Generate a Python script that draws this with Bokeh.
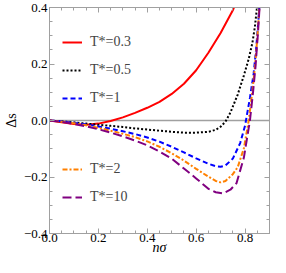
from bokeh.plotting import figure
from bokeh.models import (Range1d, FixedTicker, LinearAxis, Span, Legend, LegendItem)
from bokeh.embed import file_html
from bokeh.resources import INLINE

# ---- data ----
x_03 = [0.0, 0.05, 0.1, 0.15, 0.2, 0.25, 0.3, 0.35, 0.4, 0.45, 0.5, 0.55, 0.6, 0.65, 0.7, 0.75, 0.8]
y_03 = [0.0, -0.006, -0.012, -0.015, -0.011, -0.002, 0.011, 0.027, 0.045, 0.066, 0.094, 0.13, 0.178, 0.24, 0.31, 0.39, 0.5]

x_05 = [0.0, 0.05, 0.1, 0.15, 0.2, 0.25, 0.3, 0.35, 0.4, 0.45, 0.5, 0.55, 0.6, 0.65, 0.68, 0.7, 0.72, 0.74, 0.77, 0.795, 0.815, 0.83, 0.84, 0.85, 0.86]
y_05 = [0.0, -0.003, -0.007, -0.011, -0.015, -0.019, -0.023, -0.028, -0.032, -0.036, -0.040, -0.043, -0.043, -0.040, -0.033, -0.022, -0.004, 0.028, 0.092, 0.159, 0.218, 0.275, 0.33, 0.41, 0.52]

x_1 = [0.0, 0.05, 0.1, 0.15, 0.2, 0.25, 0.3, 0.35, 0.4, 0.45, 0.5, 0.55, 0.6, 0.65, 0.68, 0.7, 0.72, 0.75, 0.78, 0.8, 0.82, 0.835, 0.845, 0.855, 0.862]
y_1 = [0.0, -0.003, -0.008, -0.014, -0.021, -0.029, -0.038, -0.048, -0.060, -0.075, -0.093, -0.113, -0.134, -0.153, -0.162, -0.164, -0.159, -0.135, -0.08, -0.018, 0.08, 0.165, 0.25, 0.36, 0.45]

x_2 = [0.0, 0.05, 0.1, 0.15, 0.2, 0.25, 0.3, 0.35, 0.4, 0.45, 0.5, 0.55, 0.6, 0.65, 0.68, 0.7, 0.72, 0.75, 0.77, 0.795, 0.815, 0.83, 0.84, 0.85, 0.86]
y_2 = [0.0, -0.004, -0.010, -0.017, -0.026, -0.036, -0.047, -0.059, -0.074, -0.093, -0.116, -0.142, -0.171, -0.199, -0.214, -0.219, -0.214, -0.19, -0.165, -0.099, 0.0, 0.105, 0.185, 0.29, 0.42]

x_10 = [0.0, 0.05, 0.1, 0.15, 0.2, 0.25, 0.3, 0.35, 0.4, 0.45, 0.5, 0.55, 0.6, 0.65, 0.68, 0.71, 0.74, 0.765, 0.795, 0.82, 0.833, 0.843, 0.852, 0.86]
y_10 = [0.0, -0.005, -0.012, -0.021, -0.031, -0.043, -0.056, -0.071, -0.088, -0.110, -0.135, -0.170, -0.205, -0.242, -0.254, -0.258, -0.245, -0.222, -0.132, 0.0, 0.103, 0.193, 0.3, 0.41]

labels = ["T*=0.3", "T*=0.5", "T*=1", "T*=2", "T*=10"]

x_ticks = [0.0, 0.2, 0.4, 0.6, 0.8]
x_tick_labels = ["0.0", "0.2", "0.4", "0.6", "0.8"]
y_ticks = [-0.4, -0.2, 0.0, 0.2, 0.4]
y_tick_labels = ["\u22120.4", "\u22120.2", "0.0", "0.2", "0.4"]
x_minor = [i * 0.05 for i in range(0, 19)]
y_minor = [-0.4 + i * 0.05 for i in range(0, 17)]

FONT = "Liberation Serif"
AX = "#a0a0a0"

p = figure(width=270, height=257, output_backend="svg", toolbar_location=None,
           x_range=Range1d(0, 0.9), y_range=Range1d(-0.4, 0.4),
           min_border_left=0, min_border_right=1, min_border_top=7, min_border_bottom=0,
           x_axis_label="n\u03c3", y_axis_label="\u0394s")
p.grid.visible = False
p.outline_line_color = AX
p.background_fill_color = "white"
p.border_fill_color = "white"

xt = FixedTicker(ticks=x_ticks, minor_ticks=x_minor)
yt = FixedTicker(ticks=y_ticks, minor_ticks=y_minor)

def style(ax, show):
    ax.axis_line_color = AX
    ax.major_tick_line_color = AX
    ax.minor_tick_line_color = AX
    ax.major_tick_in = 5
    ax.major_tick_out = 0
    ax.minor_tick_in = 3
    ax.minor_tick_out = 0
    ax.major_label_text_font = FONT
    ax.axis_label_text_font = FONT
    ax.axis_label_text_font_size = "14px"
    ax.axis_label_text_color = "black"
    ax.major_label_text_font_size = "13px"
    if show:
        ax.major_label_text_color = "black"
    else:
        ax.major_label_text_color = None

xa = p.xaxis[0]
ya = p.yaxis[0]
xa.ticker = xt
ya.ticker = yt
xa.major_label_overrides = dict(zip(x_ticks, x_tick_labels))
ya.major_label_overrides = dict(zip(y_ticks, y_tick_labels))
style(xa, True)
style(ya, True)
xa.major_label_standoff = 0
xa.axis_label_standoff = -5
xa.axis_label_text_font_style = "italic"
ya.major_label_standoff = 2
ya.axis_label_standoff = 2
ya.axis_label_text_font_style = "normal"

ra = LinearAxis(ticker=FixedTicker(ticks=y_ticks, minor_ticks=y_minor))
ta = LinearAxis(ticker=FixedTicker(ticks=x_ticks, minor_ticks=x_minor))
style(ra, False)
style(ta, False)
p.add_layout(ra, "right")
p.add_layout(ta, "above")

p.add_layout(Span(location=0, dimension="width", line_color=AX, line_width=1.5, level="underlay"))

r1 = p.line(x_03, y_03, line_color="#ff0000", line_width=2)
r2 = p.line(x_05, y_05, line_color="black", line_width=2, line_dash="2 2")
r3 = p.line(x_1, y_1, line_color="#0000ff", line_width=2, line_dash="5 3")
r4 = p.line(x_2, y_2, line_color="#ff8000", line_width=2, line_dash="5 2 2 2")
r5 = p.line(x_10, y_10, line_color="#800080", line_width=2, line_dash="9 4")

def mk_legend(items, loc):
    lg = Legend(items=items, location=loc, padding=0, margin=0, spacing=10,
                glyph_width=20, glyph_height=18, label_height=18, label_standoff=8,
                label_text_font=FONT, label_text_font_size="14px",
                background_fill_alpha=0, border_line_alpha=0)
    return lg

p.add_layout(mk_legend([LegendItem(label=labels[0], renderers=[r1]),
                        LegendItem(label=labels[1], renderers=[r2]),
                        LegendItem(label=labels[2], renderers=[r3])], (13, 126)))
p.add_layout(mk_legend([LegendItem(label=labels[3], renderers=[r4]),
                        LegendItem(label=labels[4], renderers=[r5])], (13, 27)))

open("out.html", "w").write(file_html(p, INLINE))
